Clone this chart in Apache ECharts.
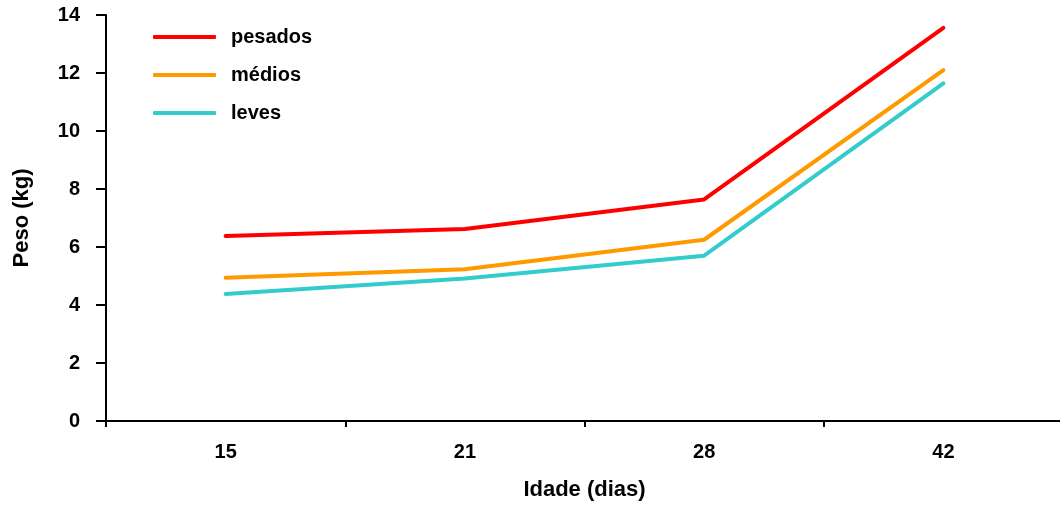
<!DOCTYPE html>
<html><head><meta charset="utf-8">
<script src="https://cdn.jsdelivr.net/npm/echarts@6/dist/echarts.min.js"></script>
<style>html,body{margin:0;padding:0;background:#fff}#c{width:1060px;height:505px}</style>
</head><body><div id="c"></div>
<script>
const categories = ['15', '21', '28', '42'];
const pesados = [6.38, 6.62, 7.64, 13.56];
const medios = [4.94, 5.23, 6.25, 12.1];
const leves = [4.38, 4.91, 5.70, 11.64];
const seriesNames = ['pesados', 'médios', 'leves'];
const colors = ['#ff0000', '#ff9900', '#33cccc'];
const FONT = '"Liberation Sans", Arial, sans-serif';

const chart = echarts.init(document.getElementById('c'), null, {renderer: 'canvas'});
const data = [pesados, medios, leves];
chart.setOption({
  animation: false,
  color: colors,
  textStyle: {fontFamily: FONT},
  grid: {left: 106, right: -3, top: 15, bottom: 84, containLabel: false, outerBoundsMode: 'none'},
  legend: {
    orient: 'vertical', left: 148, top: 22, itemWidth: 63, itemHeight: 4, itemGap: 18,
    data: seriesNames.map(n => ({name: n, icon: 'roundRect'})),
    textStyle: {fontFamily: FONT, fontWeight: 'bold', fontSize: 20, color: '#000', padding: [0, 0, 0, 10]}
  },
  xAxis: {
    type: 'category', data: categories, boundaryGap: true,
    name: 'Idade (dias)', nameLocation: 'middle', nameGap: 58,
    nameTextStyle: {fontFamily: FONT, fontWeight: 'bold', fontSize: 22, color: '#000'},
    axisLine: {lineStyle: {color: '#000', width: 2}},
    axisTick: {show: true, length: 6, lineStyle: {color: '#000', width: 2}},
    axisLabel: {fontFamily: FONT, fontWeight: 'bold', fontSize: 20, color: '#000', margin: 21},
    splitLine: {show: false}
  },
  yAxis: {
    type: 'value', min: 0, max: 14, interval: 2,
    name: 'Peso (kg)', nameLocation: 'middle', nameGap: 73, nameRotate: 90,
    nameTextStyle: {fontFamily: FONT, fontWeight: 'bold', fontSize: 22, color: '#000'},
    axisLine: {show: true, lineStyle: {color: '#000', width: 2}},
    axisTick: {show: true, length: 10, lineStyle: {color: '#000', width: 2}},
    axisLabel: {fontFamily: FONT, fontWeight: 'bold', fontSize: 20, color: '#000', margin: 26},
    splitLine: {show: false}
  },
  series: seriesNames.map((n, i) => ({
    name: n, type: 'line', data: data[i], showSymbol: false, symbol: 'none',
    lineStyle: {width: 4, color: colors[i], cap: 'round', join: 'round'},
    itemStyle: {color: colors[i]}
  }))
});
</script></body></html>
